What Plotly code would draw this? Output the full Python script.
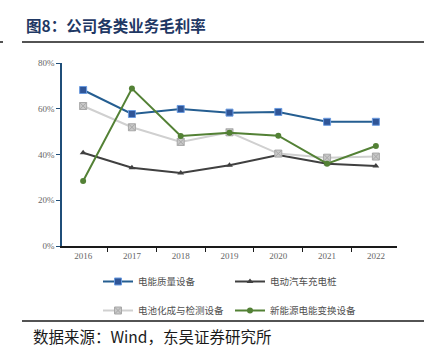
import plotly.graph_objects as go

years = ["2016", "2017", "2018", "2019", "2020", "2021", "2022"]
power_quality = [68.2, 57.7, 59.9, 58.3, 58.6, 54.3, 54.3]
ev_charger = [40.8, 34.2, 31.9, 35.3, 39.8, 36.0, 35.0]
battery_test = [61.2, 51.9, 45.5, 49.7, 40.4, 38.6, 39.1]
new_energy = [28.4, 68.8, 48.1, 49.5, 48.2, 36.0, 43.7]
names = ["电能质量设备", "电动汽车充电桩", "电池化成与检测设备", "新能源电能变换设备"]

W, H = 426, 355
L, R, T, B = 62, 397, 63, 246
def px(x): return (x - L) / (R - L)
def py(y): return (B - y) / (B - T)

fig = go.Figure()
fig.add_trace(go.Scatter(x=years, y=power_quality, name=names[0], mode="lines+markers",
    line=dict(color="#255e91", width=2),
    marker=dict(symbol="square", size=7, color="#2f5597", line=dict(color="#6a9be0", width=1)),
    legend="legend"))
fig.add_trace(go.Scatter(x=years, y=ev_charger, name=names[1], mode="lines+markers",
    line=dict(color="#404040", width=2),
    marker=dict(symbol="triangle-up", size=6, color="#404040"),
    legend="legend"))
fig.add_trace(go.Scatter(x=years, y=battery_test, name=names[2], mode="lines+markers",
    line=dict(color="#d0d0d0", width=2),
    marker=dict(symbol="square-x", size=7, color="#c8c8c8", line=dict(color="#a8a8a8", width=1)),
    legend="legend2"))
fig.add_trace(go.Scatter(x=years, y=new_energy, name=names[3], mode="lines+markers",
    line=dict(color="#538135", width=2),
    marker=dict(symbol="circle", size=6, color="#538135"),
    legend="legend2"))

legfont = dict(family="Noto Sans CJK SC", size=9.5, color="#505050")
fig.update_layout(
    width=W, height=H,
    margin=dict(l=L, r=W - R, t=T, b=H - B, autoexpand=False),
    paper_bgcolor="white", plot_bgcolor="white",
    showlegend=True,
    legend=dict(orientation="h", x=px(98), y=py(267), xanchor="left", yanchor="top",
                entrywidth=87, font=legfont, bgcolor="rgba(0,0,0,0)", itemwidth=30),
    legend2=dict(orientation="h", x=px(98), y=py(296), xanchor="left", yanchor="top",
                 entrywidth=87, font=legfont, bgcolor="rgba(0,0,0,0)", itemwidth=30),
    xaxis=dict(showgrid=False, showline=True, linecolor="#1a1a1a", linewidth=1.5,
               ticks="outside", ticklen=4, tickcolor="#1a1a1a",
               tickson="boundaries",
               tickfont=dict(family="Liberation Serif", size=9, color="#666666")),
    yaxis=dict(range=[0, 80], dtick=20, ticksuffix="%", showgrid=False, zeroline=False,
               showline=True, linecolor="#1f4e79", linewidth=1.5,
               ticks="outside", ticklen=4, tickcolor="#1f4e79",
               tickfont=dict(family="Liberation Serif", size=9, color="#666666")),
    shapes=[
        dict(type="line", xref="paper", yref="paper", x0=px(22), x1=px(424), y0=py(42), y1=py(42),
             line=dict(color="#1a1a1a", width=1.5)),
        dict(type="line", xref="paper", yref="paper", x0=px(0), x1=px(3), y0=py(42), y1=py(42),
             line=dict(color="#1a1a1a", width=1.5)),
        dict(type="line", xref="paper", yref="paper", x0=px(22), x1=px(424), y0=py(321), y1=py(321),
             line=dict(color="#1a1a1a", width=1.5)),
    ],
    annotations=[
        dict(text="<b>图8：公司各类业务毛利率</b>", xref="paper", yref="paper", x=px(24), y=py(25),
             xanchor="left", yanchor="middle", showarrow=False,
             font=dict(family="Noto Sans CJK SC", size=15.5, color="#1f3864")),
        dict(text="数据来源：Wind，东吴证券研究所", xref="paper", yref="paper", x=px(31), y=py(336),
             xanchor="left", yanchor="middle", showarrow=False,
             font=dict(family="Noto Sans CJK SC", size=15.5, color="#1a1a1a")),
    ],
)
fig.write_html("out.html", config={"displayModeBar": False},
               post_script="document.body.style.margin='0';")
